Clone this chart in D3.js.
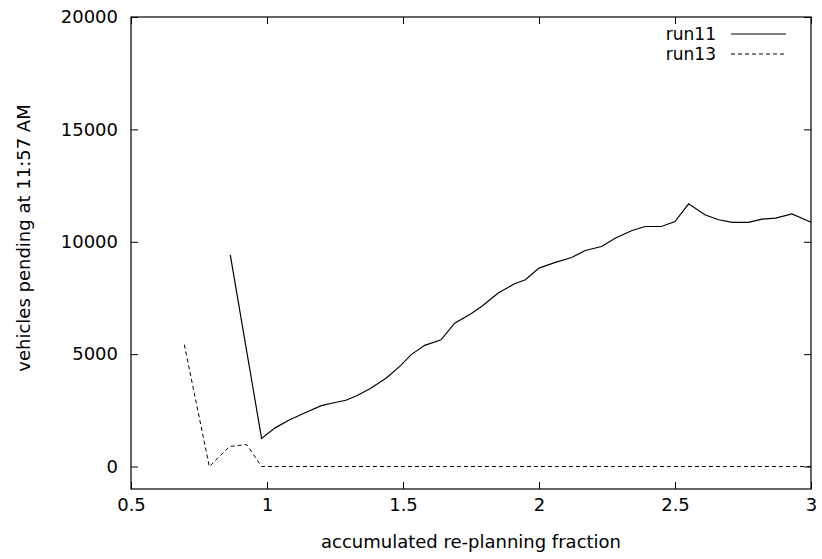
<!DOCTYPE html>
<html>
<head>
<meta charset="utf-8">
<script src="https://cdn.jsdelivr.net/npm/d3@7"></script>
<style>
  body { margin: 0; background: #fff; }
  text { font-family: "DejaVu Sans", "Liberation Sans", Arial, sans-serif; font-size: 18px; fill: #000; }
</style>
</head>
<body>
<div id="chart"></div>
<script>
// run11 (solid)
const run11X = [0.865, 0.98, 1.03, 1.08, 1.14, 1.20, 1.25, 1.29, 1.33, 1.38, 1.44, 1.49, 1.53, 1.58, 1.64,
  1.69, 1.75, 1.79, 1.85, 1.91, 1.95, 2.00, 2.06, 2.12, 2.17, 2.23, 2.28, 2.34, 2.39, 2.45, 2.50,
  2.55, 2.61, 2.66, 2.71, 2.77, 2.82, 2.87, 2.93, 3.00];
const run11Y = [9420, 1250, 1720, 2060, 2390, 2710, 2850, 2950, 3150, 3470, 3950, 4480, 4980, 5390, 5640,
  6380, 6800, 7130, 7720, 8130, 8310, 8830, 9080, 9300, 9610, 9790, 10160, 10490, 10680, 10680, 10900,
  11690, 11200, 10980, 10860, 10860, 11010, 11050, 11240, 10870];

// run13 (dashed)
const run13X = [0.696, 0.788, 0.862, 0.925, 0.98, 3.00];
const run13Y = [5420, 0, 890, 980, 0, 0];

const xTicks = [0.5, 1, 1.5, 2, 2.5, 3];
const yTicks = [0, 5000, 10000, 15000, 20000];

const width = 822, height = 559;
const margin = { top: 17, right: 11, bottom: 70, left: 131 };

const svg = d3.select("#chart").append("svg")
  .attr("width", width)
  .attr("height", height);

const x = d3.scaleLinear().domain([0.5, 3]).range([margin.left, width - margin.right]);
const y = d3.scaleLinear().domain([-1000, 20000]).range([height - margin.bottom, margin.top]);

const tickLen = 7;

// ticks (inward, mirrored like gnuplot)
svg.append("g")
  .attr("transform", `translate(0,${height - margin.bottom})`)
  .call(d3.axisBottom(x).tickValues(xTicks).tickFormat(d3.format("")).tickSize(-tickLen).tickPadding(9))
  .call(g => g.select(".domain").remove())
  .call(g => g.selectAll("text").style("font-size", "18px").attr("font-family", null));

svg.append("g")
  .attr("transform", `translate(0,${margin.top})`)
  .call(d3.axisTop(x).tickValues(xTicks).tickFormat("").tickSize(-tickLen))
  .call(g => g.select(".domain").remove());

svg.append("g")
  .attr("transform", `translate(${margin.left},0)`)
  .call(d3.axisLeft(y).tickValues(yTicks).tickFormat(d3.format("d")).tickSize(-tickLen).tickPadding(13))
  .call(g => g.select(".domain").remove())
  .call(g => g.selectAll("text").style("font-size", "18px").attr("font-family", null));

svg.append("g")
  .attr("transform", `translate(${width - margin.right},0)`)
  .call(d3.axisRight(y).tickValues(yTicks).tickFormat("").tickSize(-tickLen))
  .call(g => g.select(".domain").remove());

svg.selectAll(".tick line").attr("stroke", "#000");

// lines
const line = d3.line().x(d => x(d[0])).y(d => y(d[1]));

svg.append("path")
  .datum(run11X.map((v, i) => [v, run11Y[i]]))
  .attr("fill", "none")
  .attr("stroke", "#000")
  .attr("stroke-width", 1.2)
  .attr("d", line);

svg.append("path")
  .datum(run13X.map((v, i) => [v, run13Y[i]]))
  .attr("fill", "none")
  .attr("stroke", "#000")
  .attr("stroke-width", 1)
  .attr("stroke-dasharray", "4,3")
  .attr("d", line);

// frame
svg.append("rect")
  .attr("x", margin.left)
  .attr("y", margin.top)
  .attr("width", width - margin.left - margin.right)
  .attr("height", height - margin.top - margin.bottom)
  .attr("fill", "none")
  .attr("stroke", "#000")
  .attr("stroke-width", 1.2);

// legend
const legend = [
  { name: "run11", dash: null, w: 1.2 },
  { name: "run13", dash: "4,3", w: 1 }
];
const lg = svg.append("g").attr("transform", `translate(786,34)`);
legend.forEach((d, i) => {
  lg.append("text")
    .attr("x", -70)
    .attr("y", i * 20)
    .attr("dy", "0.35em")
    .attr("text-anchor", "end")
    .style("font-size", "17px")
    .text(d.name);
  lg.append("line")
    .attr("x1", -55).attr("x2", 0)
    .attr("y1", i * 20).attr("y2", i * 20)
    .attr("stroke", "#000")
    .attr("stroke-width", d.w)
    .attr("stroke-dasharray", d.dash);
});

// axis titles
svg.append("text")
  .attr("x", (margin.left + width - margin.right) / 2)
  .attr("y", 548)
  .attr("text-anchor", "middle")
  .text("accumulated re-planning fraction");

svg.append("text")
  .attr("transform", `translate(30,238) rotate(-90)`)
  .attr("text-anchor", "middle")
  .text("vehicles pending at 11:57 AM");
</script>
</body>
</html>
